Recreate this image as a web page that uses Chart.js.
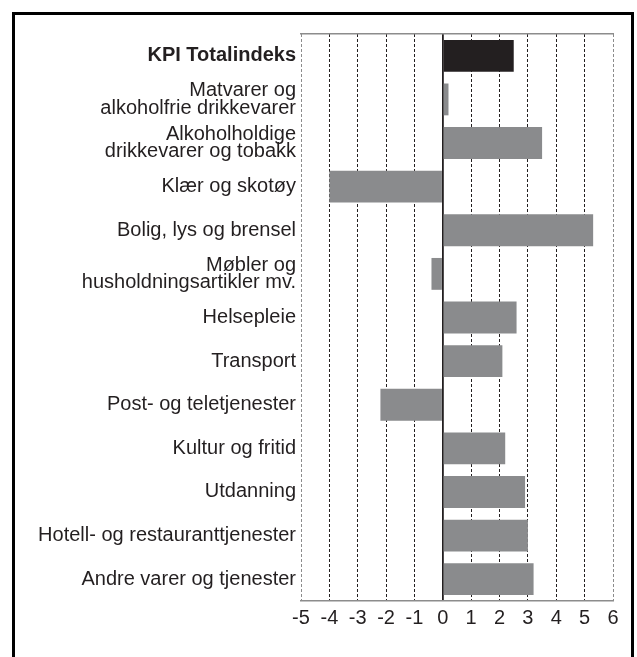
<!DOCTYPE html>
<html>
<head>
<meta charset="utf-8">
<script src="https://cdn.jsdelivr.net/npm/chart.js@4.4.1/dist/chart.umd.min.js"></script>
<style>
  html, body { margin: 0; padding: 0; background: #fff; overflow: hidden; }
  #wrap { position: relative; width: 637px; height: 657px; }
  #frame {
    position: absolute; left: 12px; top: 12px; width: 616px; height: 700px;
    border: 3px solid #000; border-bottom: none;
  }
  #chart { position: absolute; left: 0; top: 0; }
</style>
</head>
<body>
<div id="wrap">
  <div id="frame"></div>
  <canvas id="chart" width="637" height="657"></canvas>
</div>
<script>
// categories, top to bottom
const categories = [
    "KPI Totalindeks",
    ["Matvarer og", "alkoholfrie drikkevarer"],
    ["Alkoholholdige", "drikkevarer og tobakk"],
    "Klær og skotøy",
    "Bolig, lys og brensel",
    ["Møbler og", "husholdningsartikler mv."],
    "Helsepleie",
    "Transport",
    "Post- og teletjenester",
    "Kultur og fritid",
    "Utdanning",
    "Hotell- og restauranttjenester",
    "Andre varer og tjenester"
];
const values = [2.5, 0.2, 3.5, -4.0, 5.3, -0.4, 2.6, 2.1, -2.2, 2.2, 2.9, 3.0, 3.2];
const xTicks = [-5, -4, -3, -2, -1, 0, 1, 2, 3, 4, 5, 6];

const TEXT = '#231f20';
const DARK = '#231f20';
const GREY = '#8a8b8d';
const EDGE = '#8c8c8c';

const barColors = values.map((v, i) => i === 0 ? DARK : GREY);

new Chart(document.getElementById('chart'), {
    type: 'bar',
    data: {
        labels: categories,
        datasets: [{
            data: values,
            backgroundColor: barColors,
            borderWidth: 0,
            barPercentage: 0.73,
            categoryPercentage: 1.0
        }]
    },
    options: {
        indexAxis: 'y',
        responsive: false,
        animation: false,
        events: [],
        layout: { padding: { left: 0, right: 24, top: 34, bottom: 0 } },
        plugins: { legend: { display: false }, tooltip: { enabled: false } },
        scales: {
            x: {
                type: 'linear',
                position: 'bottom',
                min: xTicks[0],
                max: xTicks[xTicks.length - 1],
                afterBuildTicks: (scale) => { scale.ticks = xTicks.map(v => ({ value: v })); },
                afterFit: (scale) => { scale.height = 56; },
                grid: {
                    drawTicks: false,
                    lineWidth: (ctx) => (ctx.tick && ctx.tick.value === 0) ? 1.8 : 1,
                    color: (ctx) => {
                        const v = ctx.tick ? ctx.tick.value : null;
                        if (v === xTicks[0] || v === xTicks[xTicks.length - 1]) return EDGE;
                        return DARK;
                    }
                },
                border: {
                    display: true,
                    color: EDGE,
                    width: 1.5,
                    dash: (ctx) => (ctx.tick && ctx.tick.value === 0) ? [] : [3, 2]
                },
                ticks: {
                    color: TEXT,
                    padding: 5,
                    maxRotation: 0,
                    autoSkip: false,
                    font: { family: 'Liberation Sans, Arial, sans-serif', size: 20 }
                }
            },
            x2: {
                type: 'linear',
                axis: 'x',
                position: 'top',
                min: xTicks[0],
                max: xTicks[xTicks.length - 1],
                afterFit: (scale) => { scale.height = 0; },
                grid: { display: false, drawTicks: false },
                border: { display: true, color: EDGE, width: 1.5 },
                ticks: { display: false }
            },
            y: {
                afterFit: (scale) => { scale.width = 301; },
                grid: { display: false, drawTicks: false },
                border: { display: false },
                ticks: {
                    color: TEXT,
                    padding: 5,
                    autoSkip: false,
                    font: (ctx) => ({
                        family: 'Liberation Sans, Arial, sans-serif',
                        size: 20,
                        lineHeight: 0.87,
                        weight: ctx.index === 0 ? 'bold' : 'normal'
                    })
                }
            }
        }
    }
});
</script>
</body>
</html>
